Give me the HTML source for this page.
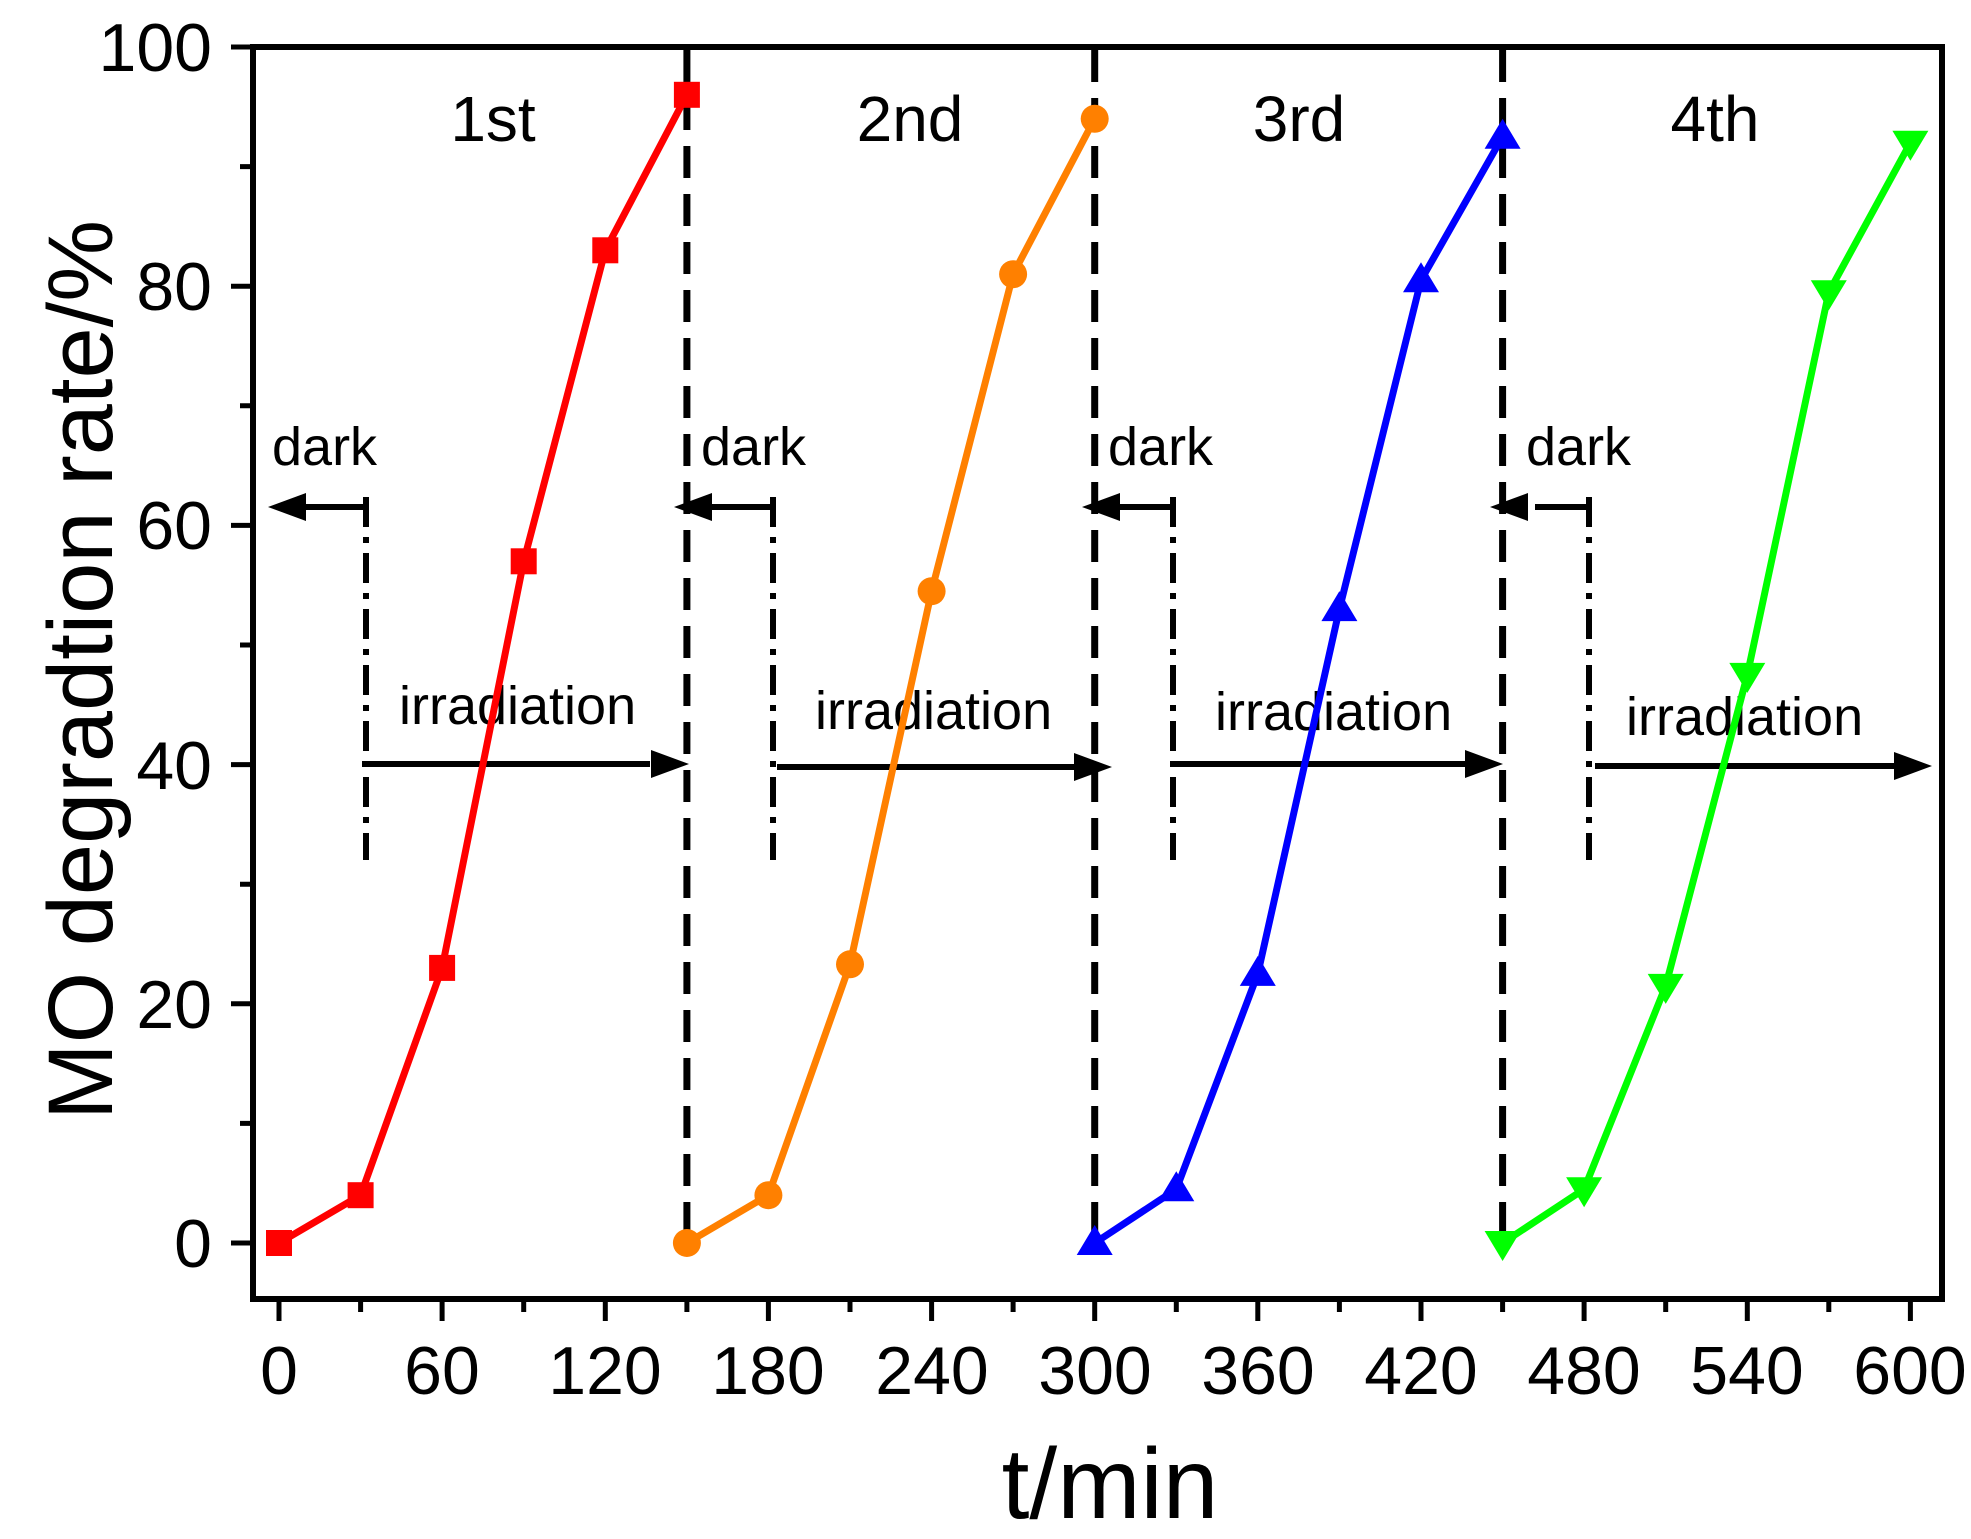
<!DOCTYPE html>
<html><head><meta charset="utf-8"><style>
html,body{margin:0;padding:0;background:#fff;}
svg{display:block;font-family:"Liberation Sans",sans-serif;}
</style></head><body>
<svg width="1971" height="1539" viewBox="0 0 1971 1539" xmlns="http://www.w3.org/2000/svg">
<!-- frame -->
<rect x="253" y="47" width="1689" height="1252" fill="none" stroke="#000" stroke-width="6"/>
<g stroke="#000" stroke-width="5">
<path d="M279,1299v22 M360.6,1299v13 M442.1,1299v22 M523.7,1299v13 M605.3,1299v22 M686.9,1299v13 M768.4,1299v22 M850,1299v13 M931.6,1299v22 M1013.1,1299v13 M1094.7,1299v22 M1176.3,1299v13 M1257.8,1299v22 M1339.4,1299v13 M1421,1299v22 M1502.6,1299v13 M1584.1,1299v22 M1665.7,1299v13 M1747.3,1299v22 M1828.8,1299v13 M1910.4,1299v22"/>
<path d="M253,1243h-22 M253,1123.4h-13 M253,1003.8h-22 M253,884.2h-13 M253,764.6h-22 M253,645h-13 M253,525.4h-22 M253,405.8h-13 M253,286.2h-22 M253,166.6h-13 M253,47h-22"/>
</g>
<g font-size="68" fill="#000">
<g text-anchor="middle">
<text x="279" y="1394">0</text><text x="442" y="1394">60</text><text x="605" y="1394">120</text><text x="768" y="1394">180</text><text x="932" y="1394">240</text><text x="1095" y="1394">300</text><text x="1258" y="1394">360</text><text x="1421" y="1394">420</text><text x="1584" y="1394">480</text><text x="1747" y="1394">540</text><text x="1910" y="1394">600</text>
</g>
<g text-anchor="end">
<text x="212" y="1267">0</text><text x="212" y="1028">20</text><text x="212" y="789">40</text><text x="212" y="549">60</text><text x="212" y="310">80</text><text x="212" y="71">100</text>
</g>
</g>
<text x="1110" y="1518" font-size="100" text-anchor="middle">t/min</text>
<text transform="translate(112,670) rotate(-90)" font-size="92" text-anchor="middle">MO  degradtion rate/%</text>
<g stroke="#000" stroke-width="7" stroke-dasharray="32,16" fill="none">
<path d="M686.9,50V1243 M1094.7,50V1243 M1502.6,50V1243"/>
</g>
<g stroke="#000" stroke-width="6" stroke-dasharray="30,10,6,10" fill="none">
<path d="M366,497V860 M773,497V860 M1173,497V860 M1589,497V860"/>
</g>
<g stroke="#000" stroke-width="6" fill="none">
<path d="M366,507H300 M773,507H710 M1173,507H1118 M1589,507H1535"/>
<path d="M362,764H650 M777,767H1075 M1173,764H1468 M1595,766H1895"/>
</g>
<g fill="#000">
<polygon points="268,507 306,493 306,521"/>
<polygon points="674,507 712,493 712,521"/>
<polygon points="1082,507 1120,493 1120,521"/>
<polygon points="1490,507 1528,493 1528,521"/>
<polygon points="689,764 651,750 651,778"/>
<polygon points="1112,767 1074,753 1074,781"/>
<polygon points="1503,764 1465,750 1465,778"/>
<polygon points="1932,766 1894,752 1894,780"/>
</g>
<g font-size="64" text-anchor="middle">
<text x="493" y="141">1st</text><text x="910" y="141">2nd</text><text x="1299" y="141">3rd</text><text x="1715" y="141">4th</text>
</g>
<g font-size="54">
<text x="272" y="465">dark</text><text x="701" y="465">dark</text><text x="1108" y="465">dark</text><text x="1526" y="465">dark</text>
<text x="399" y="724">irradiation</text><text x="815" y="729">irradiation</text><text x="1215" y="730">irradiation</text><text x="1626" y="735">irradiation</text>
</g>
<g fill="none" stroke-width="7">
<polyline stroke="#ff0000" points="279,1243 360.6,1195.2 442.1,967.9 523.7,561.3 605.3,250.3 686.9,94.8"/>
<polyline stroke="#ff8000" points="686.9,1243 768.4,1195.2 850,964.3 931.6,591.2 1013.1,274.2 1094.7,118.8"/>
<polyline stroke="#0000ff" points="1094.7,1243 1176.3,1189.2 1257.8,973.9 1339.4,609.1 1421,280.2 1502.6,136.7"/>
<polyline stroke="#00ff00" points="1502.6,1243 1584.1,1189.2 1665.7,985.9 1747.3,674.9 1828.8,292.2 1910.4,142.7"/>
</g>
<g fill="#ff0000">
<rect x="266" y="1230" width="26" height="26"/><rect x="347.6" y="1182.2" width="26" height="26"/><rect x="429.1" y="954.9" width="26" height="26"/><rect x="510.7" y="548.3" width="26" height="26"/><rect x="592.3" y="237.3" width="26" height="26"/><rect x="673.9" y="81.8" width="26" height="26"/>
</g>
<g fill="#ff8000">
<circle cx="686.9" cy="1243" r="14"/><circle cx="768.4" cy="1195.2" r="14"/><circle cx="850" cy="964.3" r="14"/><circle cx="931.6" cy="591.2" r="14"/><circle cx="1013.1" cy="274.2" r="14"/><circle cx="1094.7" cy="118.8" r="14"/>
</g>
<g fill="#0000ff">
<path d="M1094.7,1225l18,30h-36z M1176.3,1171.2l18,30h-36z M1257.8,955.9l18,30h-36z M1339.4,591.1l18,30h-36z M1421,262.2l18,30h-36z M1502.6,118.7l18,30h-36z"/>
</g>
<g fill="#00ff00">
<path d="M1502.6,1261l18,-30h-36z M1584.1,1207.2l18,-30h-36z M1665.7,1003.9l18,-30h-36z M1747.3,692.9l18,-30h-36z M1828.8,310.2l18,-30h-36z M1910.4,160.7l18,-30h-36z"/>
</g>
</svg>
</body></html>
